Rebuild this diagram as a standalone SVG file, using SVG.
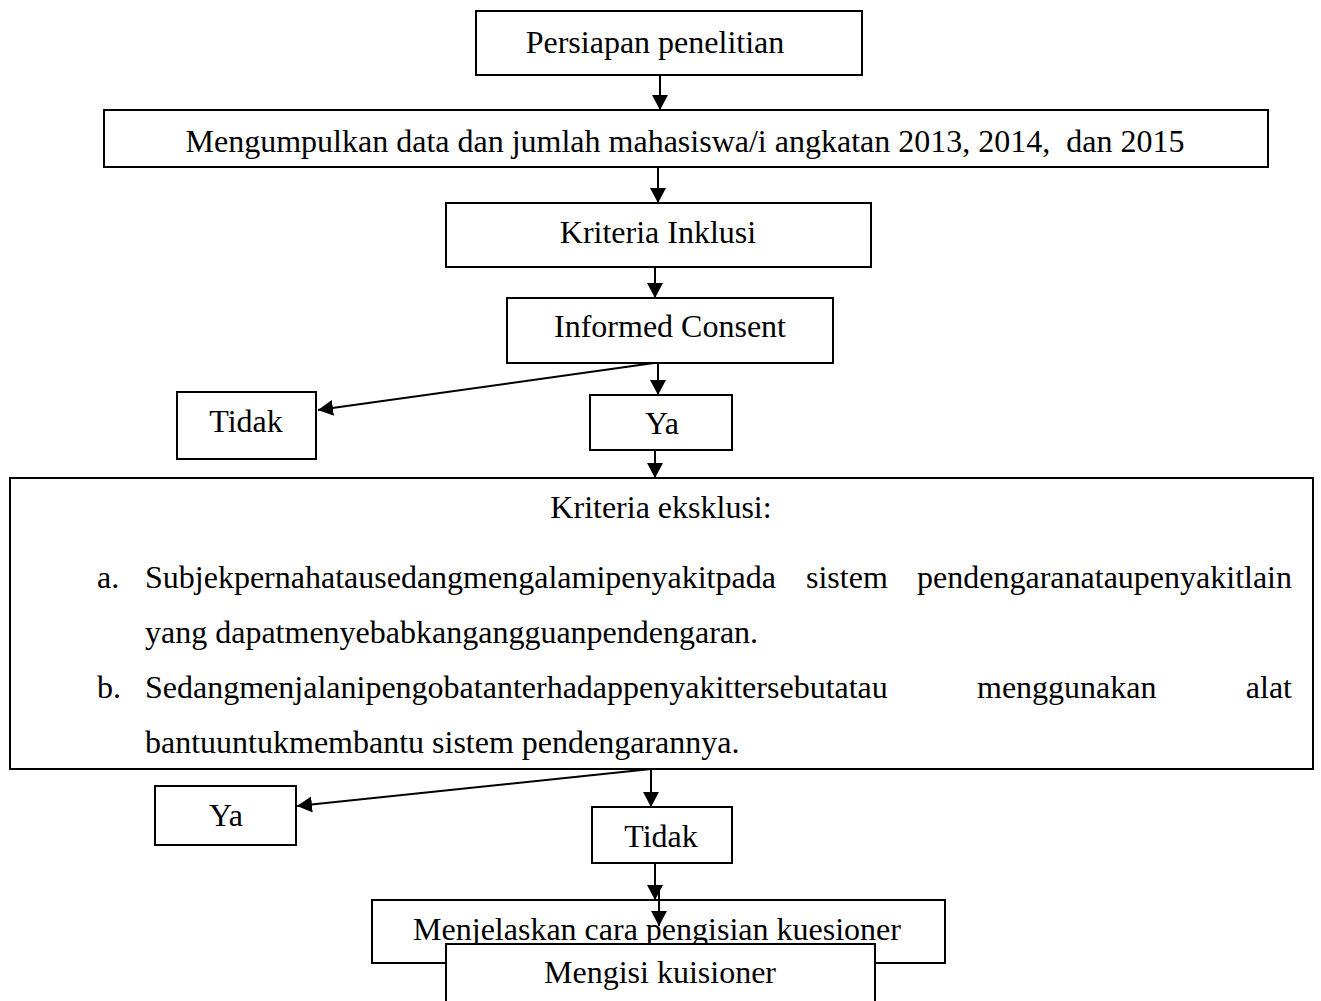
<svg xmlns="http://www.w3.org/2000/svg" width="1321" height="1001" viewBox="0 0 1321 1001">
<style>
.box{fill:#fff;stroke:#000;stroke-width:2}
.t{font-family:"Liberation Serif","Times New Roman",serif;font-size:32px;fill:#000;white-space:pre}
.c{text-anchor:middle}
.e{text-anchor:end}
.conn{stroke:#000;stroke-width:2;fill:none;marker-end:url(#ah)}
</style>
<defs>
<marker id="ah" markerUnits="userSpaceOnUse" markerWidth="18" markerHeight="18" refX="15" refY="8" orient="auto">
<path d="M0,0 L15,8 L0,16 Z" fill="#000"/>
</marker>
</defs>
<rect width="1321" height="1001" fill="#fff"/>
<g id="n1"><rect class="box" x="476" y="11" width="386" height="64"/><text class="t c" x="655" y="53">Persiapan penelitian</text></g>
<g id="n2"><rect class="box" x="104" y="110" width="1164" height="57"/><text class="t c" x="685" y="152" xml:space="preserve">Mengumpulkan data dan jumlah mahasiswa/i angkatan 2013, 2014,  dan 2015</text></g>
<g id="n3"><rect class="box" x="446" y="203" width="425" height="64"/><text class="t c" x="658" y="243">Kriteria Inklusi</text></g>
<g id="n4"><rect class="box" x="507" y="298" width="326" height="65"/><text class="t c" x="670" y="337">Informed Consent</text></g>
<g id="n5"><rect class="box" x="177" y="392" width="139" height="67"/><text class="t c" x="246" y="432">Tidak</text></g>
<g id="n6"><rect class="box" x="590" y="395" width="142" height="55"/><text class="t c" x="662" y="434">Ya</text></g>
<g id="n7"><rect class="box" x="10" y="478" width="1303" height="291"/>
<text class="t c" x="661" y="518">Kriteria eksklusi:</text>
<text class="t" x="97" y="588">a.</text>
<text class="t" x="145" y="588">Subjekpernahatausedangmengalamipenyakitpada</text>
<text class="t" x="806" y="588">sistem</text>
<text class="t e" x="1292" y="588">pendengaranataupenyakitlain</text>
<text class="t" x="145" y="643">yang dapatmenyebabkangangguanpendengaran.</text>
<text class="t" x="97" y="698">b.</text>
<text class="t" x="145" y="698">Sedangmenjalanipengobatanterhadappenyakittersebutatau</text>
<text class="t" x="977" y="698">menggunakan</text>
<text class="t e" x="1292" y="698">alat</text>
<text class="t" x="145" y="753">bantuuntukmembantu sistem pendengarannya.</text>
</g>
<g id="n8"><rect class="box" x="155" y="786" width="141" height="59"/><text class="t c" x="226" y="826">Ya</text></g>
<g id="n9"><rect class="box" x="592" y="807" width="140" height="56"/><text class="t c" x="661" y="847">Tidak</text></g>
<g id="n10"><rect class="box" x="372" y="900" width="573" height="63"/><text class="t c" x="657" y="940">Menjelaskan cara pengisian kuesioner</text></g>
<g id="connectors">
<line class="conn" x1="660" y1="75" x2="660" y2="110"/>
<line class="conn" x1="658" y1="167" x2="658" y2="203"/>
<line class="conn" x1="655" y1="267" x2="655" y2="298"/>
<line class="conn" x1="658" y1="363" x2="658" y2="395"/>
<line class="conn" x1="654" y1="363" x2="318" y2="410"/>
<line class="conn" x1="655" y1="450" x2="655" y2="478"/>
<line class="conn" x1="651" y1="769" x2="297" y2="806"/>
<line class="conn" x1="651" y1="769" x2="651" y2="807"/>
<line class="conn" x1="655" y1="863" x2="655" y2="900"/>
<line class="conn" x1="659" y1="885" x2="659" y2="926"/>
</g>
<g id="n11"><rect class="box" x="446" y="944" width="429" height="70"/><text class="t c" x="660" y="983">Mengisi kuisioner</text></g>
</svg>
